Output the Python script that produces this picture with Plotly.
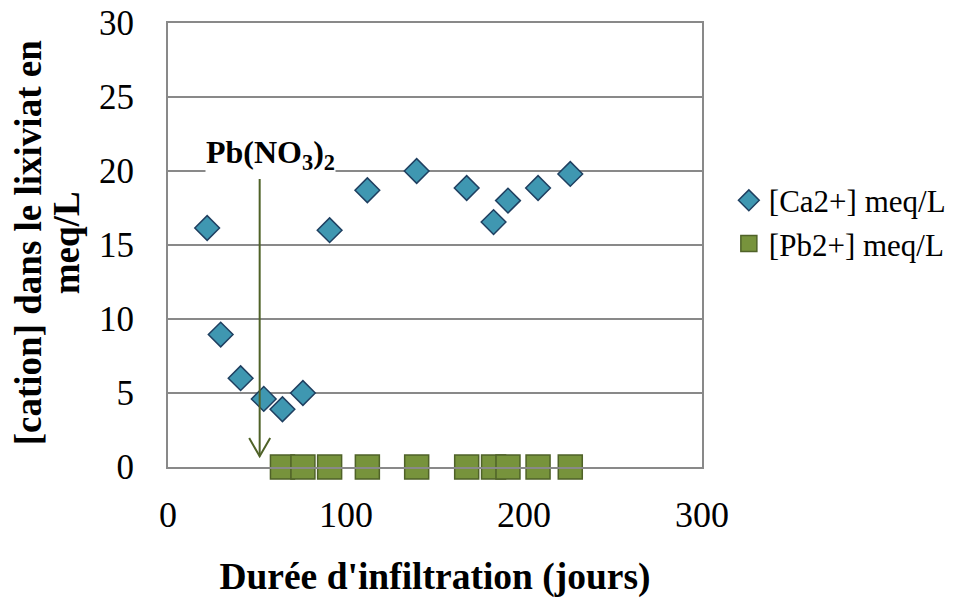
import plotly.graph_objects as go

# Data
ca_days = [22, 29.6, 40.8, 53.8, 64.3, 75.8, 90.8, 112, 139.7, 167.8, 182.9, 191, 207.9, 226]
ca_meq = [16.15, 8.95, 6.0, 4.6, 3.9, 5.0, 16.0, 18.7, 20.0, 18.85, 16.55, 18.0, 18.85, 19.8]

pb_days = [64.3, 75.8, 90.8, 112, 139.7, 167.8, 182.9, 191, 207.9, 226]
pb_meq = [0, 0, 0, 0, 0, 0, 0, 0, 0, 0]

x_ticks = [0, 100, 200, 300]
y_ticks = [0, 5, 10, 15, 20, 25, 30]

arrow_x = 51.5
arrow_top = 19.46
arrow_tip = 0.72

FONT = "Liberation Serif, Times New Roman, serif"
GRID = "#898989"

fig = go.Figure()
fig.add_trace(go.Scatter(
    x=ca_days, y=ca_meq, mode="markers", name="[Ca2+] meq/L",
    marker=dict(symbol="diamond", size=19, color="#3f97b1",
                line=dict(color="#1f3f60", width=1.5)),
    cliponaxis=False,
))
fig.add_trace(go.Scatter(
    x=pb_days, y=pb_meq, mode="markers", name="[Pb2+] meq/L",
    marker=dict(symbol="square", size=24, color="#77933c",
                line=dict(color="#4f6228", width=1.5)),
    cliponaxis=False,
))

# Arrow (line + open V head)
fig.add_shape(type="line", x0=arrow_x, x1=arrow_x, y0=arrow_top, y1=arrow_tip,
              line=dict(color="#4f6228", width=2))
fig.add_shape(type="path",
              path=f"M {arrow_x-5.9},{arrow_tip+1.24} L {arrow_x},{arrow_tip} L {arrow_x+5.9},{arrow_tip+1.24}",
              line=dict(color="#4f6228", width=2))

fig.add_annotation(x=57.6, y=21.1, xref="x", yref="y",
                   text="<b>Pb(NO<sub>3</sub>)<sub>2</sub></b>", showarrow=False,
                   font=dict(family=FONT, size=32, color="black"),
                   bgcolor="white", borderpad=0)

# Y axis title as two annotation lines
fig.add_annotation(x=0, y=0.504, xref="paper", yref="paper",
                   text="<b>[cation] dans le lixiviat en</b>",
                   textangle=-90, showarrow=False, xanchor="center", yanchor="middle",
                   xshift=-140,
                   font=dict(family=FONT, size=37, color="black"))
fig.add_annotation(x=0, y=0.504, xref="paper", yref="paper",
                   text="<b>meq/L</b>",
                   textangle=-90, showarrow=False, xanchor="center", yanchor="middle",
                   xshift=-102,
                   font=dict(family=FONT, size=37, color="black"))

fig.update_layout(
    width=946, height=590,
    margin=dict(l=160, r=252, t=15, b=131),
    paper_bgcolor="white", plot_bgcolor="white",
    font=dict(family=FONT, color="black"),
    showlegend=True,
    legend=dict(xref="container", yref="container", x=0.762, y=0.637,
                xanchor="left", yanchor="middle",
                font=dict(family=FONT, size=31, color="black"),
                itemwidth=30, tracegroupgap=0),
    xaxis=dict(range=[0, 300], tickvals=x_ticks, showgrid=False, automargin=False,
               showline=True, linecolor=GRID, linewidth=2, mirror=True,
               zeroline=False, ticks="", ticklabelstandoff=15, ticklabeloverflow="allow",
               tickfont=dict(family=FONT, size=36),
               title=dict(text="<b>Durée d'infiltration (jours)</b>",
                          font=dict(family=FONT, size=37.5), standoff=30)),
    yaxis=dict(range=[0, 30], tickvals=y_ticks, showgrid=True, gridcolor=GRID,
               gridwidth=1.5, showline=True, linecolor=GRID, linewidth=2, mirror=True,
               zeroline=False, ticks="", ticklabelstandoff=25, automargin=False,
               ticklabeloverflow="allow",
               tickfont=dict(family=FONT, size=35)),
)

fig.write_html("out.html")
